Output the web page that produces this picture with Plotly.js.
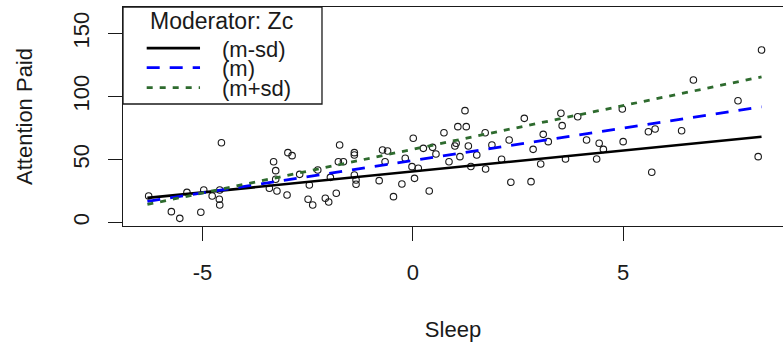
<!DOCTYPE html>
<html>
<head>
<meta charset="utf-8">
<script src="https://cdn.plot.ly/plotly-3.0.1.min.js"></script>
<style>
html,body{margin:0;padding:0;background:#fff;overflow:hidden;}
#chart{width:783px;height:343px;}
</style>
</head>
<body>
<div id="chart"></div>
<script>
// Observed data (Sleep vs Attention Paid)
var sleepX = [-6.28,-4.55,-5.74,-5.54,-5.37,-5.04,-4.97,-4.77,-4.59,-4.60,-4.59,-3.31,-3.26,-3.26,-3.41,-3.23,-2.97,-2.87,-2.99,-2.46,-2.49,-2.38,-2.08,-2.00,-1.82,-1.77,-1.74,-1.96,-2.69,-2.26,
  -1.65,-1.39,-1.39,-1.39,-1.35,-1.35,-0.80,-0.72,-0.60,-0.66,-0.46,-0.26,-0.18,0.01,-0.02,0.04,0.13,0.39,0.25,0.47,0.55,0.74,0.86,1.00,1.03,1.07,1.24,1.27,1.32,1.12,1.38,1.52,1.72,1.73,1.88,2.11,2.33,2.29,2.65,2.81,2.86,3.04,3.10,3.22,
  3.52,3.55,3.63,3.92,4.13,4.37,4.43,4.53,4.98,5.00,5.60,5.76,5.68,6.39,6.67,7.73,8.21,8.29];
var attentionY = [21.0,63.3,8.6,3.3,23.9,8.1,25.8,21.0,25.8,18.4,13.9,48.2,41.1,34.3,27.1,25.0,55.4,53.0,21.8,29.7,18.4,13.9,19.2,16.3,23.2,48.2,61.5,35.8,38.2,41.6,
  48.2,55.4,53.5,37.7,33.7,30.3,33.2,57.5,56.7,48.2,20.5,30.5,50.9,66.8,44.3,35.0,43.0,25.0,58.8,59.6,54.3,71.2,48.2,60.7,62.8,76.0,88.7,76.0,60.7,52.2,44.4,53.5,71.2,42.4,61.5,50.1,31.9,65.4,82.6,32.4,58.0,46.4,69.9,64.1,
  86.6,76.8,50.4,83.9,65.4,50.4,62.8,58.0,90.0,64.1,72.0,74.1,39.8,72.8,113.0,96.6,52.2,136.8];

// Simple slopes at moderator levels
var lineX = [-6.31, 8.29];
var lowY  = [19.5, 68.0];   // (m-sd)
var midY  = [16.8, 91.7];   // (m)
var highY = [14.3, 115.5];  // (m+sd)

var xTicks = [-5, 0, 5];
var yTicks = [0, 50, 100, 150];
var legendTitle = 'Moderator: Zc';
var legendLabels = ['(m-sd)', '(m)', '(m+sd)'];

var FONT = 'Liberation Sans, Arial, Helvetica, sans-serif';
var INK = '#1a1a1a';
var GREEN = '#2e6b2e';

var traces = [
  {x: sleepX, y: attentionY, type: 'scatter', mode: 'markers',
   marker: {symbol: 'circle-open', size: 6.5, color: INK, line: {width: 1.1, color: INK}}, showlegend: false, cliponaxis: false},
  {x: lineX, y: lowY, type: 'scatter', mode: 'lines', line: {color: '#000', width: 2.6}, showlegend: false},
  {x: lineX, y: midY, type: 'scatter', mode: 'lines', line: {color: '#0000ff', width: 2.8, dash: '13px,10px'}, showlegend: false},
  {x: lineX, y: highY, type: 'scatter', mode: 'lines', line: {color: GREEN, width: 2.8, dash: '6px,7px'}, showlegend: false}
];

// legend geometry in paper coordinates
var L = {x0: 0, x1: 0.3015, y0: 0.557, y1: 1, sx0: 0.0359, sx1: 0.1167, tx: 0.147};
var rows = [0.812, 0.723, 0.632];
var txtRows = [0.806, 0.717, 0.630];
var styles = [
  {color: '#000', width: 2.6, dash: 'solid'},
  {color: '#0000ff', width: 2.8, dash: '13px,10px'},
  {color: GREEN, width: 2.8, dash: '6px,7px'}
];

var shapes = [{type: 'rect', xref: 'paper', yref: 'paper', x0: L.x0, x1: L.x1, y0: L.y0, y1: L.y1,
  line: {color: INK, width: 1.3}, fillcolor: '#fff', layer: 'above'}];
var annotations = [{xref: 'paper', yref: 'paper', x: 0.1495, y: 0.935, xanchor: 'center', yanchor: 'middle',
  text: legendTitle, showarrow: false, font: {family: FONT, size: 23, color: INK}}];
for (var i = 0; i < 3; i++) {
  shapes.push({type: 'line', xref: 'paper', yref: 'paper', x0: L.sx0, x1: L.sx1, y0: rows[i], y1: rows[i],
    line: styles[i], layer: 'above'});
  annotations.push({xref: 'paper', yref: 'paper', x: L.tx, y: txtRows[i], xanchor: 'left', yanchor: 'middle',
    text: legendLabels[i], showarrow: false, font: {family: FONT, size: 22, color: INK}});
}

var layout = {
  width: 783, height: 343,
  margin: {l: 123, r: 0, t: 7, b: 117, pad: 0},
  paper_bgcolor: '#fff', plot_bgcolor: '#fff',
  font: {family: FONT, size: 22, color: INK},
  showlegend: false,
  xaxis: {
    range: [-6.89, 8.80], tickvals: xTicks, ticktext: xTicks.map(String),
    showgrid: false, zeroline: false, showline: true, mirror: true, linecolor: INK, linewidth: 1.3,
    ticks: 'outside', ticklen: 14, tickwidth: 1.3, tickcolor: INK, ticklabelstandoff: 12,
    tickfont: {family: FONT, size: 22, color: INK},
    title: {text: 'Sleep', font: {family: FONT, size: 22, color: INK}, standoff: 38}
  },
  yaxis: {
    range: [-2.78, 170.9], tickvals: yTicks, ticktext: yTicks.map(String), tickangle: -90,
    showgrid: false, zeroline: false, showline: true, mirror: false, linecolor: INK, linewidth: 1.3,
    ticks: 'outside', ticklen: 14, tickwidth: 1.3, tickcolor: INK, ticklabelstandoff: 10,
    tickfont: {family: FONT, size: 22, color: INK},
    title: {text: 'Attention Paid', font: {family: FONT, size: 22, color: INK}, standoff: 30}
  },
  shapes: shapes,
  annotations: annotations
};

Plotly.newPlot('chart', traces, layout, {staticPlot: true, displayModeBar: false});
</script>
</body>
</html>
